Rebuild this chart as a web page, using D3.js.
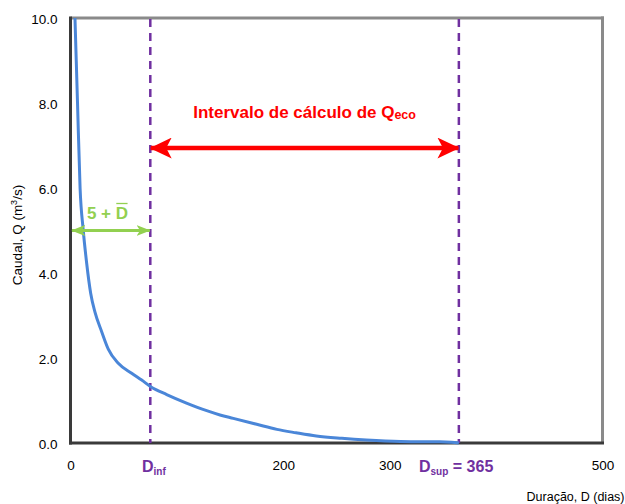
<!DOCTYPE html>
<html>
<head>
<meta charset="utf-8">
<script src="https://cdn.jsdelivr.net/npm/d3@7"></script>
<style>
  html, body { margin: 0; padding: 0; background: #fff; overflow: hidden; }
  svg { display: block; font-family: "Liberation Sans", Arial, sans-serif; }
</style>
</head>
<body>
<svg id="chart" width="625" height="504"></svg>
<script>
// Flow duration curve: duration (days) vs flow (m3/s)
const duracao = [4.2, 6.6, 9.0, 12.0, 15.2, 19.0, 23.0, 29.3, 35.5, 44.9, 57.5, 66.9, 75.7, 90.4, 109, 128, 140.5, 153, 175, 194, 212, 231, 255, 278, 310, 330, 347, 358, 365];
const caudal  = [10, 8.0, 6.0, 5.0, 4.23, 3.52, 3.08, 2.62, 2.21, 1.875, 1.64, 1.48, 1.32, 1.14, 0.94, 0.76, 0.66, 0.58, 0.44, 0.32, 0.24, 0.165, 0.11, 0.07, 0.035, 0.03, 0.03, 0.02, 0.0];

const xTicks = [0, 200, 300, 500];
const yTicks = [0, 2, 4, 6, 8, 10];

const dInf = 75;     // lower duration limit (5 + mean D)
const dSup = 365;    // upper duration limit
const qArrowGreen = 5;
const qArrowRed = 6.94;

const svg = d3.select("#chart");
const plotL = 70.5, plotR = 602.5, plotT = 18, plotB = 443;

const x = d3.scaleLinear().domain([0, 500]).range([plotL, plotR]);
const y = d3.scaleLinear().domain([0, 10]).range([plotB, plotT]);

const defs = svg.append("defs");
function arrowMarker(id, color, w, h) {
  const m = defs.append("marker")
    .attr("id", id)
    .attr("viewBox", "0 0 10 10")
    .attr("preserveAspectRatio", "none")
    .attr("refX", 9.5).attr("refY", 5)
    .attr("markerWidth", w).attr("markerHeight", h)
    .attr("markerUnits", "userSpaceOnUse")
    .attr("orient", "auto-start-reverse");
  m.append("path").attr("d", "M0,0 L10,5 L0,10 L2.5,5 Z").attr("fill", color);
}
arrowMarker("arrRed", "#ff0000", 22, 21);
arrowMarker("arrGreen", "#92d050", 14, 11);

// frame: grey top/right, dark left/bottom
svg.append("line").attr("x1", plotL).attr("x2", plotR + 1.5).attr("y1", plotT).attr("y2", plotT)
  .attr("stroke", "#8a8a8a").attr("stroke-width", 3);
svg.append("line").attr("x1", plotR).attr("x2", plotR).attr("y1", plotT - 1.5).attr("y2", plotB + 1)
  .attr("stroke", "#8a8a8a").attr("stroke-width", 3);
svg.append("line").attr("x1", plotL).attr("x2", plotL).attr("y1", plotT - 1.5).attr("y2", plotB + 1.5)
  .attr("stroke", "#3a3a3a").attr("stroke-width", 3);
svg.append("line").attr("x1", plotL - 1.5).attr("x2", plotR + 1.5).attr("y1", plotB).attr("y2", plotB)
  .attr("stroke", "#3a3a3a").attr("stroke-width", 3);

// axes tick labels
const yAxis = d3.axisLeft(y).tickValues(yTicks).tickFormat(d3.format(".1f")).tickSize(0).tickPadding(13);
const gy = svg.append("g").attr("transform", `translate(${plotL},0)`).call(yAxis);
gy.select(".domain").remove();
gy.selectAll("text").attr("font-size", 13.5).attr("fill", "#000").attr("dy", "0.38em")
  .attr("font-family", "Liberation Sans, Arial, sans-serif");

const xAxis = d3.axisBottom(x).tickValues(xTicks).tickFormat(d3.format("d")).tickSize(0).tickPadding(17);
const gx = svg.append("g").attr("transform", `translate(0,${plotB})`).call(xAxis);
gx.select(".domain").remove();
gx.selectAll("text").attr("font-size", 13.5).attr("fill", "#000")
  .attr("font-family", "Liberation Sans, Arial, sans-serif");

// axis titles
const yt = svg.append("text")
  .attr("transform", `translate(22,${231 + 4}) rotate(-90)`)
  .attr("text-anchor", "middle").attr("font-size", 13.5).attr("fill", "#000");
yt.append("tspan").text("Caudal, Q (m");
yt.append("tspan").attr("font-size", 9).attr("dy", -5).text("3");
yt.append("tspan").attr("dy", 5).text("/s)");

svg.append("text").attr("x", 624.5).attr("y", 500.5).attr("text-anchor", "end")
  .attr("font-size", 12.5).attr("fill", "#000").text("Duração, D (dias)");

// vertical dashed limits
[dInf, dSup].forEach(d => {
  svg.append("line")
    .attr("x1", x(d)).attr("x2", x(d)).attr("y1", plotT + 1).attr("y2", plotB)
    .attr("stroke", "#7030a0").attr("stroke-width", 2.5)
    .attr("stroke-dasharray", "8,6");
});

// flow duration curve
const line = d3.line().x((d, i) => x(duracao[i])).y(d => y(d)).curve(d3.curveMonotoneX);
svg.append("path").datum(caudal)
  .attr("d", line)
  .attr("fill", "none").attr("stroke", "#4a86d8").attr("stroke-width", 3);

// calculation interval arrow
svg.append("line")
  .attr("x1", x(dInf) + 0.5).attr("x2", x(dSup) - 0.5)
  .attr("y1", y(qArrowRed)).attr("y2", y(qArrowRed))
  .attr("stroke", "#ff0000").attr("stroke-width", 4.5)
  .attr("marker-start", "url(#arrRed)").attr("marker-end", "url(#arrRed)");

const t1 = svg.append("text").attr("x", (x(dInf) + x(dSup)) / 2).attr("y", 117.5)
  .attr("text-anchor", "middle").attr("font-size", 17).attr("font-weight", "bold").attr("fill", "#ff0000");
t1.append("tspan").text("Intervalo de cálculo de Q");
t1.append("tspan").attr("font-size", 12.5).attr("dy", 1).text("eco");

// 5 + D arrow
svg.append("line")
  .attr("x1", x(0) + 1.5).attr("x2", x(dInf) - 0.5)
  .attr("y1", y(qArrowGreen)).attr("y2", y(qArrowGreen))
  .attr("stroke", "#92d050").attr("stroke-width", 3)
  .attr("marker-start", "url(#arrGreen)").attr("marker-end", "url(#arrGreen)");

const g5 = svg.append("text").attr("x", 107.5).attr("y", 218.5)
  .attr("text-anchor", "middle").attr("font-size", 17).attr("font-weight", "bold").attr("fill", "#92d050");
g5.append("tspan").text("5 + ");
const dBar = g5.append("tspan").text("D");
// bar over the D (mean duration)
const dBox = dBar.node().getBBox();
svg.append("line").attr("x1", dBox.x + 0.5).attr("x2", dBox.x + dBox.width - 0.5)
  .attr("y1", 203.5).attr("y2", 203.5).attr("stroke", "#92d050").attr("stroke-width", 1.3);

// limit labels
const li = svg.append("text").attr("x", 142).attr("y", 471.5)
  .attr("font-size", 16).attr("font-weight", "bold").attr("fill", "#7030a0");
li.append("tspan").text("D");
li.append("tspan").attr("font-size", 10).attr("dy", 3.5).text("inf");

const ls = svg.append("text").attr("x", 419).attr("y", 471.5)
  .attr("font-size", 16).attr("font-weight", "bold").attr("fill", "#7030a0");
ls.append("tspan").text("D");
ls.append("tspan").attr("font-size", 10).attr("dy", 3.5).text("sup");
ls.append("tspan").attr("dy", -3.5).text(" = 365");
</script>
</body>
</html>
